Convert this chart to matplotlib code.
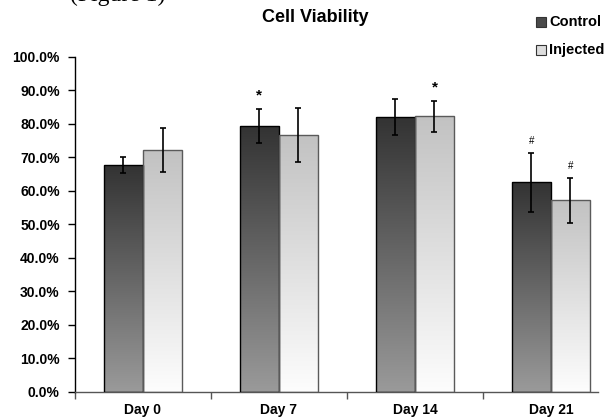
import numpy as np
import matplotlib
matplotlib.use("Agg")
import matplotlib.pyplot as plt
from matplotlib.patches import Rectangle
from matplotlib.ticker import FuncFormatter, FixedLocator

plt.rcParams['font.family'] = ['Liberation Sans', 'DejaVu Sans']
plt.rcParams['font.weight'] = 'bold'

# data
days = ["Day 0", "Day 7", "Day 14", "Day 21"]
control = [67.7, 79.2, 82.0, 62.5]
control_err = [2.4, 5.1, 5.5, 8.9]
injected = [72.2, 76.7, 82.2, 57.2]
injected_err = [6.6, 8.1, 4.6, 6.7]
control_marks = ["", "*", "", "#"]
injected_marks = ["", "", "*", "#"]

W, H = 611, 420
fig = plt.figure(figsize=(W / 100, H / 100), dpi=100)
ax = fig.add_axes([75 / W, (H - 391.7) / H, (598 - 75) / W, (391.7 - 56.7) / H])

bw = 0.287
x = np.arange(len(days))


def grad_bars(xs, vals, top_col, bot_col, edge):
    bars = ax.bar(xs, vals, width=bw, color='none', edgecolor=edge, linewidth=1.0, zorder=3)
    g = np.linspace(0, 1, 256).reshape(-1, 1)
    top = np.array(matplotlib.colors.to_rgb(top_col))
    bot = np.array(matplotlib.colors.to_rgb(bot_col))
    img = top + (bot - top) * g[..., None]
    for b in bars:
        x0, y0 = b.get_x(), b.get_y()
        im = ax.imshow(img, extent=[x0, x0 + b.get_width(), y0, y0 + b.get_height()],
                       aspect='auto', zorder=2, origin='upper')
        im.set_clip_path(b)
    return bars


grad_bars(x - bw / 2, control, '#333333', '#9a9a9a', 'black')
grad_bars(x + bw / 2, injected, '#c2c2c2', '#fdfdfd', '#5a5a5a')

ax.errorbar(x - bw / 2, control, yerr=control_err, fmt='none', ecolor='black',
            elinewidth=1.2, capsize=2.5, capthick=1.2, zorder=4)
ax.errorbar(x + bw / 2, injected, yerr=injected_err, fmt='none', ecolor='black',
            elinewidth=1.2, capsize=2.5, capthick=1.2, zorder=4)

for i in range(len(days)):
    for xs, v, e, m in ((x[i] - bw / 2, control[i], control_err[i], control_marks[i]),
                        (x[i] + bw / 2, injected[i], injected_err[i], injected_marks[i])):
        if m == "*":
            ax.text(xs, v + e + 2.0, m, ha='center', va='bottom', fontsize=11, fontweight='bold')
        elif m == "#":
            ax.text(xs, v + e + 2.0, m, ha='center', va='bottom', fontsize=7, fontweight='normal')

ax.set_xlim(-0.5, 3.346)
ax.set_ylim(0, 100)
ax.yaxis.set_major_locator(FixedLocator(np.arange(0, 101, 10)))
ax.yaxis.set_major_formatter(FuncFormatter(lambda v, p: f"{v:.1f}%"))
ax.set_xticks(x)
ax.set_xticklabels(days)
ax.xaxis.set_minor_locator(FixedLocator(x[:4] - 0.5))
ax.tick_params(axis='x', which='major', length=0, pad=8, labelsize=10)
ax.tick_params(axis='x', which='minor', length=5, width=1, color='#555555', direction='out')
ax.tick_params(axis='y', length=5, width=1, pad=6, labelsize=10, direction='out')
for lab in ax.get_xticklabels() + ax.get_yticklabels():
    lab.set_fontweight('bold')
for s in ('top', 'right'):
    ax.spines[s].set_visible(False)
ax.spines['left'].set_linewidth(1.0)
ax.spines['bottom'].set_color('#555555')
ax.spines['bottom'].set_linewidth(1.0)

fig.text(315 / W, 1 - 18 / H, "Cell Viability", ha='center', va='center', fontsize=13,
         fontweight='bold')

# legend
for lab, c, y in (("Control", '#4a4a4a', 22), ("Injected", '#dddddd', 50)):
    fig.add_artist(Rectangle((536 / W, 1 - (y + 5) / H), 10 / W, 10 / H,
                             transform=fig.transFigure, facecolor=c,
                             edgecolor='#333333', linewidth=0.8))
    fig.text(549 / W, 1 - y / H, lab, ha='left', va='center', fontsize=10.5, fontweight='bold')

# caption fragment cut by the top edge
fig.text(70 / W, 1 - 1.5 / H, "(Figure 1)", ha='left', va='baseline', fontsize=17,
         family='Liberation Serif', fontweight='normal')

fig.savefig("out.png", dpi=100)
